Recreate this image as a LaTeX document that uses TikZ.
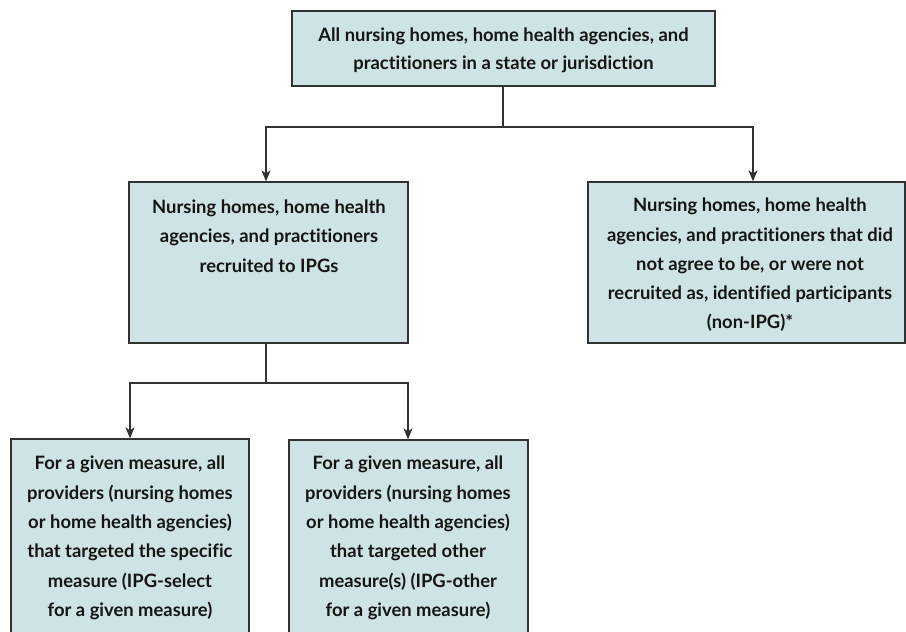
\documentclass[tikz,border=0pt]{standalone}
\usepackage{fontspec}
\setmainfont{Lato}[Ligatures={NoCommon,NoRare,NoContextual}]
\usetikzlibrary{arrows.meta}
\definecolor{boxfill}{RGB}{205,227,230}
\definecolor{edge}{RGB}{50,50,50}
\definecolor{txt}{RGB}{20,20,20}
\tikzset{
  box/.style={draw=edge, line width=1.3pt, fill=boxfill, rectangle, inner sep=0pt},
  lbl/.style={align=center, inner sep=0pt, text=txt, font=\fontsize{18.4}{29.3}\selectfont\bfseries},
  conn/.style={draw=edge, line width=1.2pt},
  arr/.style={conn, -{Stealth[length=11pt, width=9pt, inset=3pt]}}
}
\begin{document}
\begin{tikzpicture}[x=1pt, y=-1pt]
\useasboundingbox (0,0) rectangle (906,632);
\clip (0,0) rectangle (906,632);
% boxes
\node[box, minimum width=423pt, minimum height=75pt] (top) at (503.5,48.5) {};
\node[box, minimum width=279pt, minimum height=161pt] (mid) at (268.5,262.5) {};
\node[box, minimum width=317pt, minimum height=161pt] (right) at (746.5,262.5) {};
\node[box, minimum width=238pt, minimum height=230pt] (bl) at (130,554) {};
\node[box, minimum width=239pt, minimum height=230pt] (bm) at (408.5,555) {};
% texts
\node[lbl, font=\fontsize{18.4}{28}\selectfont\bfseries] (ttop) at (503.5,50) {All nursing homes, home health agencies, and\\practitioners in a state or jurisdiction};
\node[lbl] (tmid) at (269,236) {Nursing homes, home health\\agencies, and practitioners\\recruited to IPGs};
\node[lbl] (tright) at (750,265) {Nursing homes, home health\\agencies, and practitioners that did\\not agree to be, or were not\\recruited as, identified participants\\(non-IPG)*};
\node[lbl] (tbl) at (130,538) {For a given measure, all\\providers (nursing homes\\or home health agencies)\\that targeted the specific\\measure (IPG-select\\for a given measure)};
\node[lbl] (tbm) at (408,538) {For a given measure, all\\providers (nursing homes\\or home health agencies)\\that targeted other\\measure(s) (IPG-other\\for a given measure)};
% connectors
\coordinate (j1) at (503,127);
\coordinate (j2) at (266,383);
\draw[conn] (top.south -| j1) -- (j1);
\draw[arr] (j1) -| (mid.north -| 266,0);
\draw[arr] (j1) -| (right.north -| 753,0);
\draw[conn] (mid.south -| j2) -- (j2);
\draw[arr] (j2) -| (bl.north -| 130,0);
\draw[arr] (j2) -| (bm.north -| 408,0);
\end{tikzpicture}
\end{document}
